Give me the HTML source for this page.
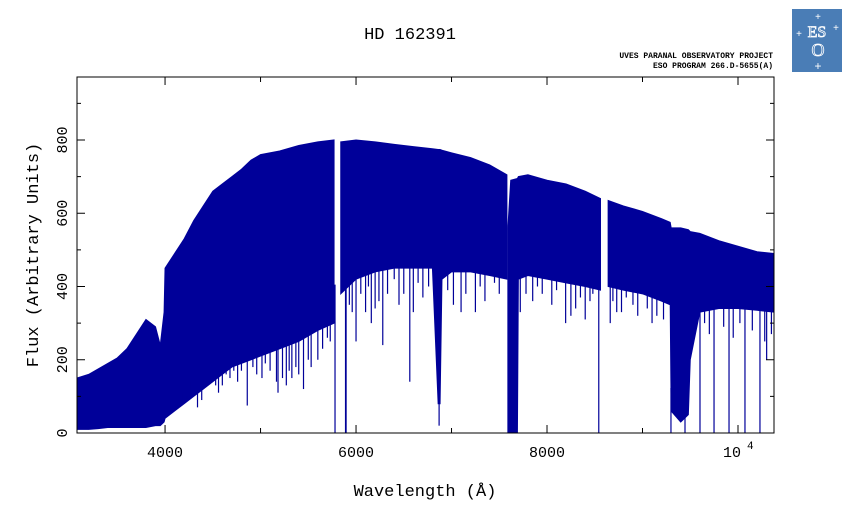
<!DOCTYPE html>
<html><head><meta charset="utf-8"><style>
html,body{margin:0;padding:0;background:#fff;}
svg{display:block;font-family:"Liberation Mono",monospace;}
</style></head><body>
<svg id="chart" width="851" height="511" viewBox="0 0 851 511" xmlns="http://www.w3.org/2000/svg">
<text x="410" y="39" font-size="17" text-anchor="middle">HD 162391</text>
<text x="773" y="58" font-size="8" text-anchor="end" font-weight="bold">UVES PARANAL OBSERVATORY PROJECT</text>
<text x="773" y="68" font-size="8" text-anchor="end" font-weight="bold">ESO PROGRAM 266.D-5655(A)</text>
<g>
<rect x="792" y="9" width="50" height="63" fill="#4a7db6"/>
<text x="817" y="37" font-size="16" fill="none" stroke="#fff" stroke-width="0.8" text-anchor="middle" font-family="Liberation Serif,serif">ES</text>
<text x="818" y="56" font-size="18" fill="none" stroke="#fff" stroke-width="0.8" text-anchor="middle" font-family="Liberation Serif,serif">O</text>
<text x="818" y="20" font-size="10" fill="#fff" text-anchor="middle">+</text>
<text x="799" y="37" font-size="10" fill="#fff" text-anchor="middle">+</text>
<text x="836" y="31" font-size="10" fill="#fff" text-anchor="middle">+</text>
<text x="818" y="70" font-size="12" fill="#fff" text-anchor="middle">+</text>
</g>
<defs><clipPath id="pc"><rect x="77" y="77" width="697" height="356"/></clipPath></defs>
<g id="plot"></g>
<text x="425" y="496" font-size="17" text-anchor="middle">Wavelength (Å)</text>
<text transform="translate(38,255) rotate(-90)" font-size="17" text-anchor="middle">Flux (Arbitrary Units)</text>
</svg>
<script>
const wl =    [3078,3200,3300,3400,3500,3600,3700,3800,3900,3950,3990,4000,4100,4200,4300,4400,4500,4600,4700,4800,4900,5000,5200,5400,5600,5770];
const upper = [150, 160, 175, 190, 205, 230, 270, 310, 290, 240, 330, 450, 490, 530, 580, 620, 660, 680, 700, 720, 745, 760, 770, 785, 795, 800];
const lower = [10,  10,  12,  15,  15,  15,  15,  15,  20,  20,  30,  40,  60,  80,  100, 120, 140, 160, 180, 190, 200, 210, 230, 250, 280, 300];
const wl2 =    [5840,6000,6200,6400,6600,6800,6860,6880,6900,7000,7200,7400,7580];
const upper2 = [795, 800, 795, 788, 782, 776, 774, 774, 772, 765, 752, 732, 705];
const lower2 = [380, 420, 440, 450, 450, 450, 80,  80,  420, 440, 440, 430, 420];
const wl3 =    [7590,7620,7690,7700,7800,8000,8200,8400,8560];
const upper3 = [560, 690, 695, 700, 705, 690, 680, 660, 640];
const lower3 = [0,   0,   0,   420, 430, 420, 410, 400, 390];
const wl4 =    [8640,8800,9000,9200,9290,9300,9400,9480,9500,9600,9800,10000,10200,10377];
const upper4 = [635, 620, 605, 585, 575, 560, 560, 555, 550, 545, 525, 510,  495,  490];
const lower4 = [400, 390, 380, 360, 350, 60,  30,  50,  200, 330, 340, 340,  335,  330];
const lineWl =  [3970,4102,4340,4384,4530,4560,4861,5015,5167,5183,5270,5328,5450,5600,5700,5780,5890,5896,6000,6160,6280,6563,6870,7100,7250,8195,8250,8542,8662,8730,9298,9445,9602,9749,9906,10073,10230,10300];
const lineMin = [120, 80,  70,  90,  130, 110, 75,  150, 140, 110, 130, 150, 120, 200, 260, 0,   0,   0,   250, 300, 240, 140, 20,  330, 330, 300, 320, 0,   300, 330, 0,   0,   0,   0,   0,   0,    0,    200];
const extraWl =  [4050,4140,4180,4230,4270,4410,4440,4480,4600,4640,4680,4720,4760,4800,4920,4960,5050,5100,5230,5300,5370,5400,5500,5530,5650,5730,5930,5960,6050,6100,6130,6200,6240,6330,6400,6450,6500,6600,6650,6700,6760,6960,7020,7150,7300,7350,7450,7500,7720,7780,7850,7900,7950,8050,8100,8300,8350,8400,8450,8480,8690,8780,8830,8900,8950,9050,9100,9150,9220,9550,9650,9700,9850,9950,10020,10150,10280,10350];
const extraMin = [90,  120, 110, 100, 140, 150, 130, 170, 130, 160, 150, 170, 140, 170, 180, 160, 190, 170, 150, 170, 180, 160, 200, 180, 230, 250, 350, 330, 380, 330, 400, 340, 360, 380, 420, 350, 380, 330, 410, 370, 400, 390, 350, 380, 400, 360, 410, 380, 330, 380, 360, 400, 380, 350, 390, 340, 370, 310, 360, 380, 360, 330, 370, 350, 320, 340, 300, 320, 310, 280, 300, 270, 290, 260, 300, 280, 250, 270];
const yTicks = [0,200,400,600,800];
const xTicks = [4000,6000,8000,10000];
const xTickLabels = ["4000","6000","8000","10"];

const NS="http://www.w3.org/2000/svg";
const L=77,R=774,T=77,B=433, X0=3078,X1=10377, Y1=972;
const xs=w=>L+(w-X0)/(X1-X0)*(R-L);
const ys=v=>B-v/Y1*(B-T);
const g=document.getElementById('plot');
const gc=document.createElementNS(NS,'g');gc.setAttribute('clip-path','url(#pc)');g.appendChild(gc);
function mk(tag,attrs,parent){const e=document.createElementNS(NS,tag);for(const k in attrs)e.setAttribute(k,attrs[k]);(parent||g).appendChild(e);return e;}
const col="#000099";
const segs=[[wl,upper,lower],[wl2,upper2,lower2],[wl3,upper3,lower3],[wl4,upper4,lower4]];
function lowAt(w){
  for(const s of segs){const a=s[0];if(w>=a[0]&&w<=a[a.length-1]){
    for(let j=0;j<a.length-1;j++){if(w<=a[j+1]){const f=(w-a[j])/(a[j+1]-a[j]);return s[2][j]+f*(s[2][j+1]-s[2][j]);}}}}
  return null;
}
segs.forEach((s,i)=>{
  let pts=s[0].map((w,j)=>xs(w)+","+ys(s[1][j]));
  for(let j=s[0].length-1;j>=0;j--)pts.push(xs(s[0][j])+","+ys(s[2][j]));
  const p=mk('polygon',{points:pts.join(' '),fill:col,stroke:col,'stroke-width':1},gc);
  
  
});
function drawLine(w,m){
  let top=lowAt(w); if(top===null) top=m+400;
  const x=xs(w);
  const l=mk('line',{x1:x,x2:x,y1:ys(m),y2:ys(top+5),stroke:col,'stroke-width':1.2},gc);
  
  
}
lineWl.forEach((w,i)=>drawLine(w,lineMin[i]));
extraWl.forEach((w,i)=>drawLine(w,extraMin[i]));
const frame=mk('rect',{x:L,y:T,width:R-L,height:B-T,fill:'none',stroke:'#000','stroke-width':1});


for(let v=0;v<=900;v+=100){
  const y=ys(v),len=(v%200===0)?8:4;
  mk('line',{x1:L,x2:L+len,y1:y,y2:y,stroke:'#000'});
  mk('line',{x1:R,x2:R-len,y1:y,y2:y,stroke:'#000'});
}
yTicks.forEach(v=>{
  const t=mk('text',{transform:`translate(67,${ys(v)}) rotate(-90)`,'font-size':15,'text-anchor':'middle'});
  t.textContent=v;
  
  
});
for(let w=4000;w<=10000;w+=1000){
  const x=xs(w),len=(w%2000===0)?8:5;
  mk('line',{x1:x,x2:x,y1:B,y2:B-len,stroke:'#000'});
  mk('line',{x1:x,x2:x,y1:T,y2:T+len,stroke:'#000'});
}
xTicks.forEach((w,i)=>{
  const t=mk('text',{x:xs(w)-(w===10000?6:0),y:457,'font-size':15,'text-anchor':'middle'});
  t.textContent=xTickLabels[i];
  
  
  if(w===10000){const s=mk('text',{x:xs(w)+9,y:449,'font-size':11});s.textContent="4";
    
    }
});
</script>
</body></html>
